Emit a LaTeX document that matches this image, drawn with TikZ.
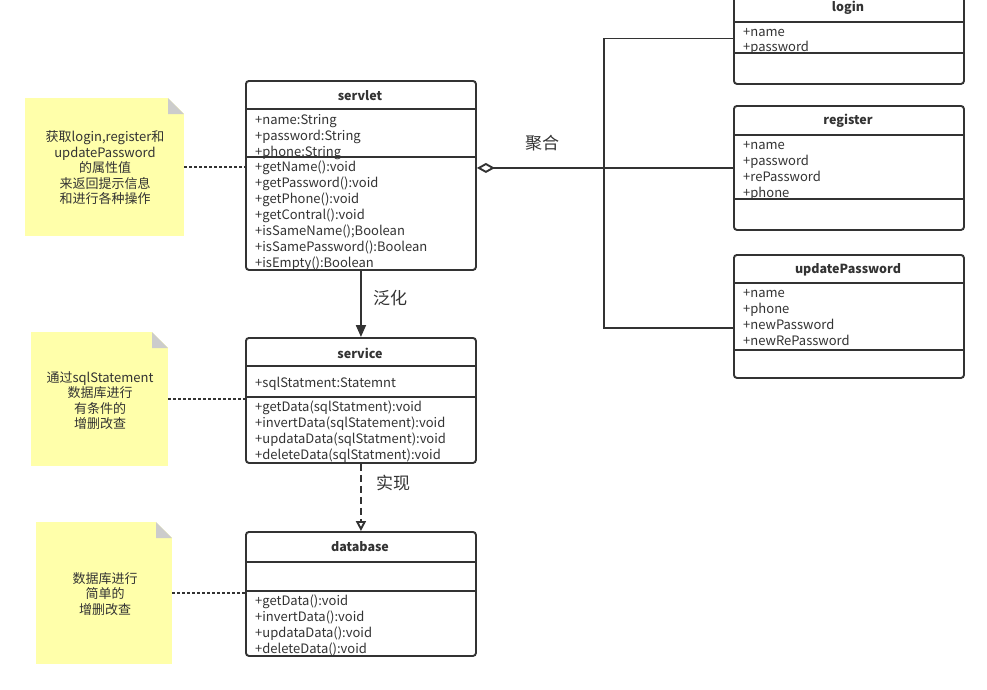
\documentclass[tikz,border=0pt]{standalone}
\usepackage{fontspec}
\setmainfont{Noto Sans CJK SC}
\usetikzlibrary{arrows.meta}
\definecolor{ln}{HTML}{333333}
\definecolor{notey}{HTML}{FFFFAA}
\definecolor{foldc}{HTML}{CCCCCC}
\begin{document}
\begin{tikzpicture}[x=1pt,y=-1pt,
 classbox/.style={draw=ln, line width=1.9pt, rounded corners=3pt, fill=white, rectangle, inner sep=0pt, anchor=north west},
 sepline/.style={draw=ln, line width=1.9pt},
 ctitle/.style={font=\fontsize{12.5}{15}\selectfont\bfseries, text=ln, inner sep=0pt},
 member/.style={font=\fontsize{13}{15}\selectfont, text=ln, inner sep=0pt, anchor=base west},
 notetext/.style={font=\fontsize{13}{15.5}\selectfont, text=ln, inner sep=0pt, align=center},
 notebody/.style={fill=notey, draw=none, rectangle, inner sep=0pt, anchor=north west},
 noteline/.style={draw=ln, line width=1.5pt, dash pattern=on 2.5pt off 2.5pt},
 conn/.style={draw=ln, line width=1.9pt},
 lbl/.style={font=\fontsize{17}{20}\selectfont, text=ln, inner sep=0pt}
]
\useasboundingbox (0,0) rectangle (987,689);

% ---------- notes ----------
\node[notebody, minimum width=159pt, minimum height=138pt] (n1) at (25,98) {};
\fill[white] (168,98) -- (184.5,98) -- (184.5,114) -- cycle;
\fill[foldc] (168,98) -- (168,114) -- (184,114) -- cycle;
\node[notetext] (n1t) at (105,168) {获取login,register和\\updatePassword\\的属性值\\来返回提示信息\\和进行各种操作};

\node[notebody, minimum width=137pt, minimum height=134pt] (n2) at (31,332) {};
\fill[white] (152,332) -- (168.5,332) -- (168.5,348) -- cycle;
\fill[foldc] (152,332) -- (152,348) -- (168,348) -- cycle;
\node[notetext] (n2t) at (100,400.5) {通过sqlStatement\\数据库进行\\有条件的\\增删改查};

\node[notebody, minimum width=136pt, minimum height=142pt] (n3) at (36,522) {};
\fill[white] (156,522) -- (172.5,522) -- (172.5,538) -- cycle;
\fill[foldc] (156,522) -- (156,538) -- (172,538) -- cycle;
\node[notetext] (n3t) at (105,594) {数据库进行\\简单的\\增删改查};

% ---------- servlet ----------
\node[classbox, minimum width=230pt, minimum height=189pt] (servlet) at (245,80) {};
\draw[sepline] (245,109) -- (475,109);
\draw[sepline] (245,157) -- (475,157);
\node[ctitle] (servletT) at (360,96) {servlet};
\foreach \t [count=\i] in {{+name:String},{+password:String},{+phone:String}}
  \node[member] (sa\i) at (255,{124.5+15.8*(\i-1)}) {\t};
\foreach \t [count=\i] in {{+getName():void},{+getPassword():void},{+getPhone():void},{+getContral():void},{+isSameName();Boolean},{+isSamePassword():Boolean},{+isEmpty():Boolean}}
  \node[member] (sm\i) at (255,{171+16*(\i-1)}) {\t};

% ---------- service ----------
\node[classbox, minimum width=230pt, minimum height=125pt] (service) at (245,337) {};
\draw[sepline] (245,366) -- (475,366);
\draw[sepline] (245,397) -- (475,397);
\node[ctitle] (serviceT) at (360,353) {service};
\node[member] (va1) at (255,387) {+sqlStatment:Statemnt};
\foreach \t [count=\i] in {{+getData(sqlStatment):void},{+invertData(sqlStatement):void},{+updataData(sqlStatment):void},{+deleteData(sqlStatment):void}}
  \node[member] (vm\i) at (255,{411+16*(\i-1)}) {\t};

% ---------- database ----------
\node[classbox, minimum width=230pt, minimum height=124pt] (database) at (245,531) {};
\draw[sepline] (245,562) -- (475,562);
\draw[sepline] (245,591) -- (475,591);
\node[ctitle] (databaseT) at (360,547) {database};
\foreach \t [count=\i] in {{+getData():void},{+invertData():void},{+updataData():void},{+deleteData():void}}
  \node[member] (dm\i) at (255,{605+16*(\i-1)}) {\t};

% ---------- login ----------
\node[classbox, minimum width=230pt, minimum height=91pt] (login) at (733,-8) {};
\draw[sepline] (733,22) -- (963,22);
\draw[sepline] (733,53) -- (963,53);
\node[ctitle] (loginT) at (848,7.5) {login};
\foreach \t [count=\i] in {{+name},{+password}}
  \node[member] (la\i) at (743,{36+15.8*(\i-1)}) {\t};

% ---------- register ----------
\node[classbox, minimum width=230pt, minimum height=124pt] (register) at (733,105) {};
\draw[sepline] (733,135) -- (963,135);
\draw[sepline] (733,199) -- (963,199);
\node[ctitle] (registerT) at (848,120.5) {register};
\foreach \t [count=\i] in {{+name},{+password},{+rePassword},{+phone}}
  \node[member] (ra\i) at (743,{149+16*(\i-1)}) {\t};

% ---------- updatePassword ----------
\node[classbox, minimum width=230pt, minimum height=123pt] (update) at (733,254) {};
\draw[sepline] (733,283) -- (963,283);
\draw[sepline] (733,350) -- (963,350);
\node[ctitle] (updateT) at (848,270) {updatePassword};
\foreach \t [count=\i] in {{+name},{+phone},{+newPassword},{+newRePassword}}
  \node[member] (ua\i) at (743,{297+16*(\i-1)}) {\t};

% ---------- connectors ----------
\draw[noteline] (n1.east) -- (servlet.west |- n1.east);
\draw[noteline] (n2.east) -- (service.west |- n2.east);
\draw[noteline] (n3.east) -- (database.west |- n3.east);

\draw[conn, -{Triangle[width=10pt,length=12pt]}] (servlet.south) -- (service.north);
\draw[conn, dash pattern=on 7pt off 4pt, -{Triangle[open,width=10pt,length=10pt]}] (service.south) -- (database.north);

\coordinate (jn) at (604,167);
\coordinate (upIn) at (733,328);
\draw[conn, {Diamond[open,fill=white,width=10pt,length=18pt]}-] (servlet.east |- register.west) -- (register.west);
\draw[conn] (login.west) -| (jn);
\draw[conn] (jn) |- (upIn);

% ---------- labels ----------
\node[lbl] (aggL) at (542,143) {聚合};
\node[lbl] (genL) at (390,298) {泛化};
\node[lbl] (realL) at (393,483) {实现};
\end{tikzpicture}
\end{document}
